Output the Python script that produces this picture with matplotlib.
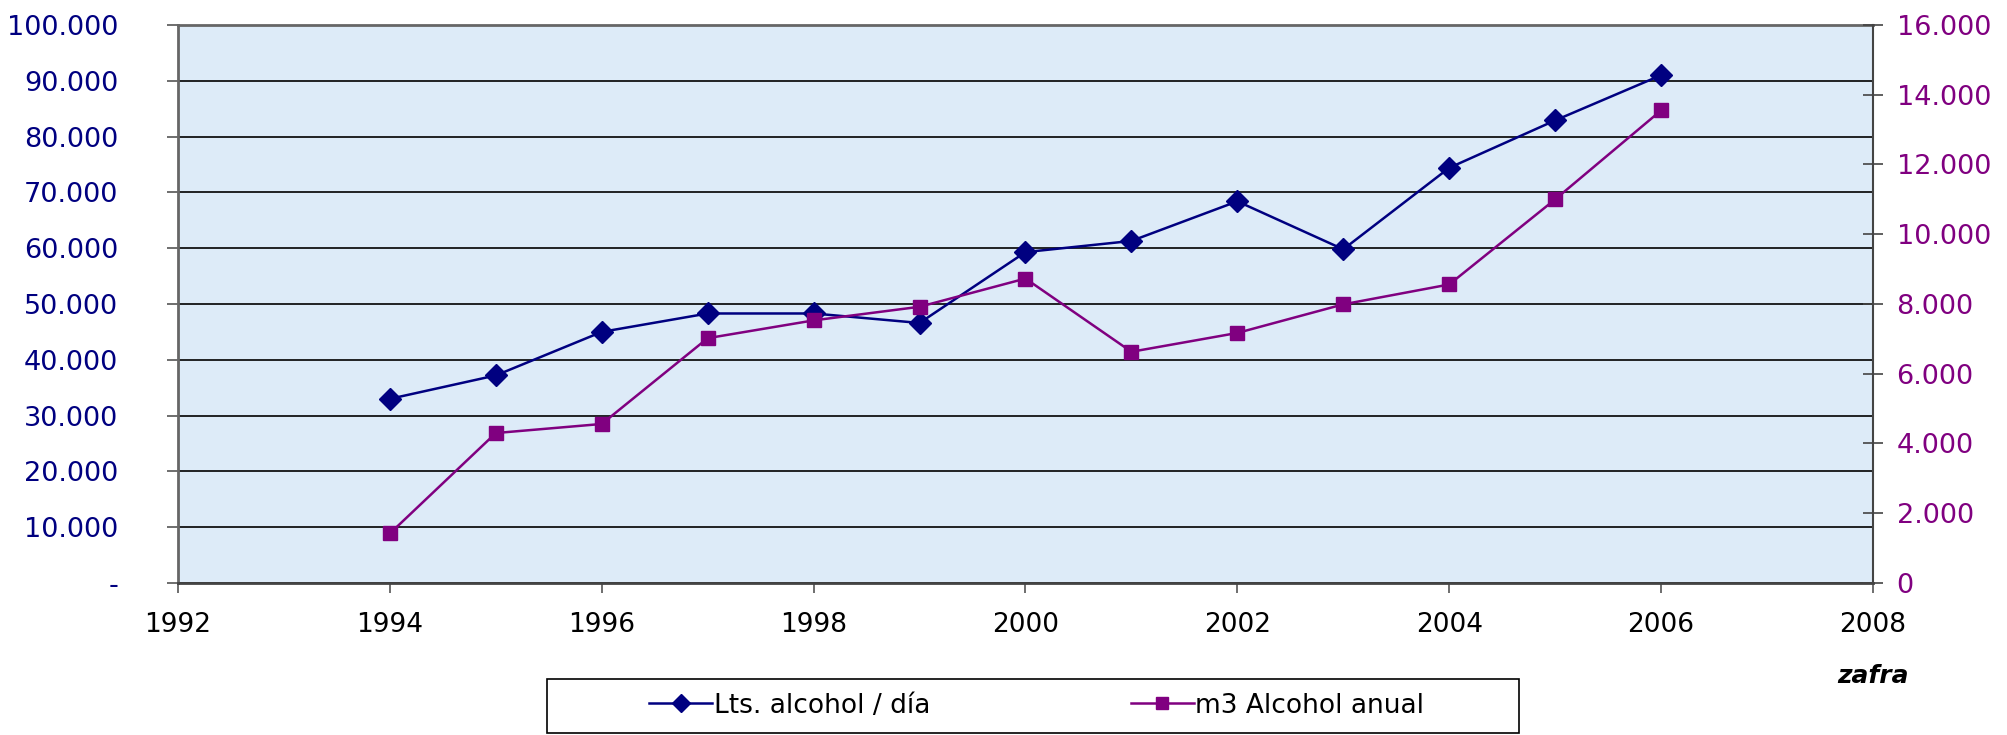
import matplotlib
matplotlib.use("Agg")
import matplotlib.pyplot as plt
from matplotlib.ticker import FuncFormatter, MultipleLocator
from matplotlib.patches import Rectangle

# datos
anios = [1994, 1995, 1996, 1997, 1998, 1999, 2000, 2001, 2002, 2003, 2004, 2005, 2006]
lts_dia = [33000, 37200, 45000, 48300, 48300, 46600, 59300, 61300, 68400, 59800, 74400, 82900, 91000]
m3_anual = [1420, 4300, 4560, 7020, 7530, 7920, 8730, 6630, 7170, 7990, 8560, 11000, 13550]

azul = "#000080"
violeta = "#800080"
fondo = "#ddebf8"

plt.rcParams["font.family"] = ["DejaVu Sans"]

fig = plt.figure(figsize=(20.07, 7.35), dpi=100)
ax = fig.add_axes([0.0887, 0.2068, 0.8445, 0.7592])
ax.set_facecolor(fondo)

def miles(v, cero):
    if abs(v) < 1e-9:
        return cero
    return f"{v / 1000:.0f}.000"

l1, = ax.plot(anios, lts_dia, color=azul, lw=1.8, marker="D", ms=11,
              label="Lts. alcohol / día", zorder=4)
ax.set_xlim(1992, 2008)
ax.set_ylim(0, 100000)
ax.yaxis.set_major_locator(MultipleLocator(10000))
ax.xaxis.set_major_locator(MultipleLocator(2))
ax.yaxis.set_major_formatter(FuncFormatter(lambda v, p: miles(v, "-")))
ax.grid(axis="y", color="black", lw=1.2, zorder=1)
ax.set_axisbelow(True)
ax.tick_params(axis="y", colors="#555555", labelcolor=azul, labelsize=19.5,
               length=8, width=1.2, pad=35)
ax.tick_params(axis="x", colors="#555555", labelcolor="black", labelsize=19,
               length=7, width=1.2, pad=14)
for s in ["left", "top"]:
    ax.spines[s].set_color("#666666")
    ax.spines[s].set_linewidth(2)
ax.spines["bottom"].set_color("#444444")
ax.spines["bottom"].set_linewidth(2)
ax.spines["right"].set_visible(False)

ax2 = ax.twinx()
l2, = ax2.plot(anios, m3_anual, color=violeta, lw=1.8, marker="s", ms=10,
               label="m3 Alcohol anual", zorder=4)
ax2.set_ylim(0, 16000)
ax2.yaxis.set_major_locator(MultipleLocator(2000))
ax2.yaxis.set_major_formatter(FuncFormatter(lambda v, p: "0" if v == 0 else miles(v, "0")))
ax2.tick_params(axis="y", colors="#444444", labelcolor=violeta, labelsize=19.5,
                direction="inout", length=14, width=1.2, pad=10)
for s in ["left", "top", "bottom"]:
    ax2.spines[s].set_visible(False)
ax2.spines["right"].set_color("#444444")
ax2.spines["right"].set_linewidth(1.5)

fig.text(0.951, 0.080, "zafra", ha="right", va="center", fontsize=18,
         fontweight="bold", style="italic")

# leyenda
fig.patches.append(Rectangle((0.2725, 0.003), 0.4843, 0.0735, transform=fig.transFigure,
                             fill=False, edgecolor="black", lw=1.2))
fig.legend([l1, l2], [l1.get_label(), l2.get_label()], ncol=2, frameon=False,
           loc="center left", bbox_to_anchor=(0.3115, 0.040), fontsize=19,
           handlelength=2.4, handletextpad=0.05, columnspacing=7.6, markerscale=0.8)

fig.savefig("out.png", dpi=100)
